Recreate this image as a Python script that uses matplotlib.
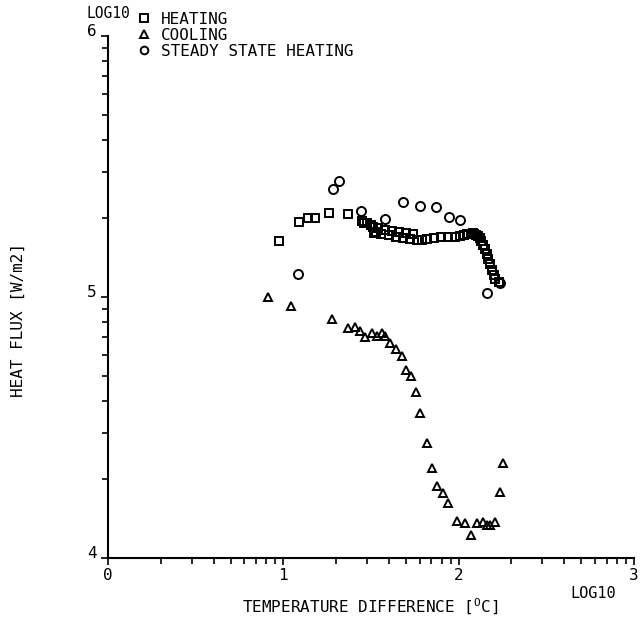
import numpy as np
import matplotlib.pyplot as plt
from matplotlib.ticker import FixedLocator

# values (log10 of temperature difference, log10 of heat flux)
heat_x = [0.975, 1.09, 1.14, 1.18, 1.26, 1.37, 1.45, 1.48, 1.51, 1.52,
          1.46, 1.50, 1.54, 1.58, 1.62, 1.66, 1.70, 1.74,
          1.53, 1.56, 1.60, 1.64, 1.68, 1.72, 1.76, 1.79,
          1.82, 1.86, 1.90, 1.94, 1.98, 2.01, 2.03, 2.05, 2.07, 2.08, 2.09,
          2.10, 2.11, 2.12, 2.13, 2.14, 2.15, 2.16, 2.17, 2.18, 2.19, 2.20,
          2.21, 2.23]
heat_y = [5.215, 5.287, 5.303, 5.303, 5.322, 5.318, 5.291, 5.284, 5.268, 5.245,
          5.285, 5.275, 5.265, 5.258, 5.252, 5.248, 5.245, 5.243,
          5.250, 5.242, 5.236, 5.230, 5.226, 5.222, 5.220, 5.218,
          5.224, 5.226, 5.228, 5.229, 5.231, 5.234, 5.237, 5.240, 5.243, 5.244, 5.242,
          5.238, 5.233, 5.226, 5.215, 5.200, 5.185, 5.165, 5.145, 5.125, 5.105, 5.085,
          5.068, 5.057]

cool_x = [0.911, 1.044, 1.276, 1.371, 1.409, 1.438, 1.466, 1.504, 1.533, 1.561,
          1.580, 1.609, 1.641, 1.675, 1.698, 1.728, 1.755, 1.780, 1.818, 1.846,
          1.878, 1.913, 1.941, 1.989, 2.037, 2.071, 2.103, 2.137, 2.160, 2.179,
          2.208, 2.236, 2.255]
cool_y = [5.001, 4.967, 4.915, 4.880, 4.884, 4.870, 4.846, 4.861, 4.851, 4.861,
          4.851, 4.823, 4.800, 4.772, 4.720, 4.697, 4.637, 4.554, 4.439, 4.346,
          4.276, 4.248, 4.212, 4.143, 4.133, 4.088, 4.133, 4.139, 4.126, 4.126,
          4.139, 4.254, 4.363]

steady_x = [1.084, 1.284, 1.318, 1.443, 1.58, 1.683, 1.78, 1.871, 1.945, 2.008,
            2.162, 2.236]
steady_y = [5.088, 5.414, 5.444, 5.330, 5.299, 5.364, 5.349, 5.345, 5.307, 5.295,
            5.015, 5.054]

plt.rcParams['font.family'] = 'DejaVu Sans Mono'

fig = plt.figure(figsize=(6.42, 6.29), dpi=100)
ax = fig.add_axes([0.1682, 0.1129, 0.8193, 0.8299])

mk = dict(linestyle='none', markerfacecolor='none', markeredgecolor='black',
          markeredgewidth=1.4)
ax.plot(heat_x, heat_y, marker='s', markersize=6, label='HEATING', **mk)
ax.plot(cool_x, cool_y, marker='^', markersize=6, label='COOLING', **mk)
ax.plot(steady_x, steady_y, marker='o', markersize=6.5, label='STEADY STATE HEATING', **mk)

ax.set_xlim(0, 3)
ax.set_ylim(4, 6)
ax.spines['top'].set_visible(False)
ax.spines['right'].set_visible(False)
ax.spines['left'].set_linewidth(1.5)
ax.spines['bottom'].set_linewidth(1.5)

ax.set_xticks([0, 1, 2, 3])
ax.set_yticks([4, 5, 6])
ax.xaxis.set_minor_locator(FixedLocator([d + np.log10(k) for d in range(3) for k in range(2, 10)]))
ax.yaxis.set_minor_locator(FixedLocator([d + np.log10(k) for d in range(4, 6) for k in range(2, 10)]))
ax.tick_params(which='both', direction='out', width=1.2, labelsize=11.5)
ax.tick_params(which='major', length=5)
ax.tick_params(which='minor', length=4)
ax.tick_params(axis='x', pad=2)
ax.tick_params(axis='y', pad=3)
for lab in ax.get_yticklabels():
    lab.set_verticalalignment('baseline')

fig.text(87 / 642, 1 - 14 / 629, 'LOG10', fontsize=10.5, ha='left', va='center')
fig.text(570 / 642, 1 - 593 / 629, 'LOG10', fontsize=11, ha='left', va='center')
fig.text(370 / 642, 1 - 607 / 629, 'TEMPERATURE DIFFERENCE [$\\mathregular{^{O}}$C]',
         fontsize=11.5, ha='center', va='center')
fig.text(18 / 642, 1 - 320 / 629, 'HEAT FLUX [W/m2]', fontsize=11.5, rotation=90,
         ha='center', va='center')

ax.legend(loc='upper left', bbox_to_anchor=(128 / 642, 1 - 4 / 629),
          bbox_transform=fig.transFigure, frameon=False, fontsize=11.5,
          handlelength=1.0, handletextpad=0.55, labelspacing=0.05, borderpad=0,
          markerscale=0.85)

fig.savefig('out.png', dpi=100)
